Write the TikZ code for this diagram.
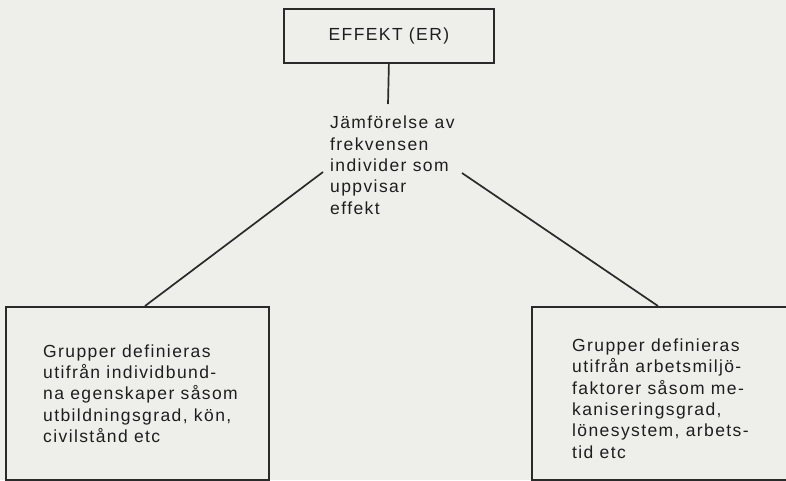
\documentclass[tikz,border=0pt]{standalone}
\usepackage{fontspec}
\setmainfont{Liberation Sans}[LetterSpace=8]
\definecolor{bg}{HTML}{EEEFEA}
\definecolor{ink}{HTML}{2A2A2A}
\definecolor{txtc}{HTML}{1E1E1E}
\begin{document}
\begin{tikzpicture}[x=1pt,y=-1pt,
  box/.style={draw=ink, line width=1.8pt, inner sep=0pt, anchor=north west},
  txt/.style={font=\fontsize{17.5}{21.3}\selectfont, text=txtc, align=left, inner sep=0pt, anchor=base west},
  conn/.style={draw=ink, line width=1.7pt}]
\clip (0,0) rectangle (786,480);
\fill[bg] (0,0) rectangle (786,480);
\node[box, minimum width=210pt, minimum height=54pt, font=\fontsize{17.5}{21.3}\selectfont, text=txtc] (effekt) at (283,8) {EFFEKT (ER)};
% base anchor of a multi-line node is the baseline of its last line
\node[txt] (jamf) at (330,214) {Jämförelse av\\frekvensen\\individer som\\uppvisar\\effekt};
\node[box, minimum width=263pt, minimum height=173pt] (lbox) at (5,306) {};
\node[txt] (ltext) at (43,442.5) {Grupper definieras\\utifrån individbund-\\na egenskaper såsom\\utbildningsgrad, kön,\\civilstånd etc};
\node[box, minimum width=275pt, minimum height=173pt] (rbox) at (531,306) {};
\node[txt] (rtext) at (572,458) {Grupper definieras\\utifrån arbetsmiljö-\\faktorer såsom me-\\kaniseringsgrad,\\lönesystem, arbets-\\tid etc};
\coordinate (vend) at (388,104);
\coordinate (lstart) at (323,172);
\coordinate (lend) at (145,306);
\coordinate (rstart) at (462,173);
\coordinate (rend) at (658,306);
\draw[conn] (effekt.south) -- (vend);
\draw[conn] (lstart) -- (lend);
\draw[conn] (rstart) -- (rend);
\end{tikzpicture}
\end{document}
